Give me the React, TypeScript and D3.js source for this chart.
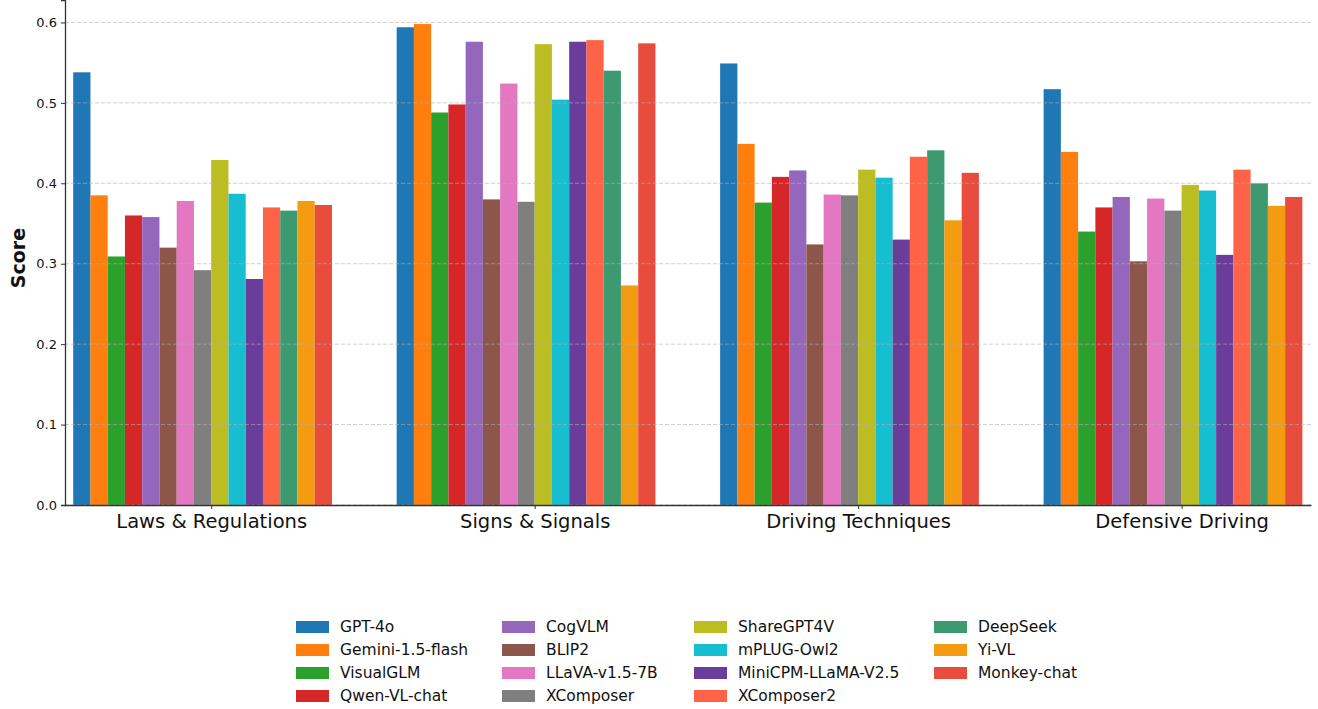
import { useEffect, useRef } from "react"
import * as d3 from "d3"

const categories = ["Laws & Regulations", "Signs & Signals", "Driving Techniques", "Defensive Driving"]

const models = [
  "GPT-4o", "Gemini-1.5-flash", "VisualGLM", "Qwen-VL-chat", "CogVLM", "BLIP2", "LLaVA-v1.5-7B",
  "XComposer", "ShareGPT4V", "mPLUG-Owl2", "MiniCPM-LLaMA-V2.5", "XComposer2", "DeepSeek", "Yi-VL", "Monkey-chat",
]

const colors = [
  "#1f77b4", "#ff7f0e", "#2ca02c", "#d62728", "#9467bd", "#8c564b", "#e377c2",
  "#7f7f7f", "#bcbd22", "#17becf", "#6a3d9a", "#ff6347", "#3d9970", "#f39c12", "#e74c3c",
]

// one value per model for each category
const lawsScores = [0.538, 0.385, 0.309, 0.36, 0.358, 0.32, 0.378, 0.292, 0.429, 0.387, 0.281, 0.37, 0.366, 0.378, 0.373]
const signsScores = [0.594, 0.598, 0.488, 0.498, 0.576, 0.38, 0.524, 0.377, 0.573, 0.504, 0.576, 0.578, 0.54, 0.273, 0.574]
const techniquesScores = [0.549, 0.449, 0.376, 0.408, 0.416, 0.324, 0.386, 0.385, 0.417, 0.407, 0.33, 0.433, 0.441, 0.354, 0.413]
const defensiveScores = [0.517, 0.439, 0.34, 0.37, 0.383, 0.303, 0.381, 0.366, 0.398, 0.391, 0.311, 0.417, 0.4, 0.372, 0.383]

const yTicks = [0, 0.1, 0.2, 0.3, 0.4, 0.5, 0.6]

export default function App() {
  const ref = useRef<SVGSVGElement>(null)

  useEffect(() => {
    const svgEl = ref.current
    if (!svgEl) return
    const svg = d3.select(svgEl)
    svg.selectAll("*").remove()

    const font = "DejaVu Sans, sans-serif"
    const left = 65
    const right = 1311
    const top = 0
    const bottom = 505

    const scores = [lawsScores, signsScores, techniquesScores, defensiveScores]
    const n = models.length
    const barW = 0.8 / n
    const maxVal = d3.max(scores.flat()) || 0

    const x = d3.scaleLinear().domain([-0.452, 3.4]).range([left, right])
    const y = d3.scaleLinear().domain([0, maxVal * 1.05]).range([bottom, top])

    // bars
    const g = svg.append("g")
    categories.forEach((cat, ci) => {
      models.forEach((m, i) => {
        const x0 = ci + (i - 8) * barW
        g.append("rect")
          .attr("x", x(x0))
          .attr("width", x(x0 + barW) - x(x0))
          .attr("y", y(scores[ci][i]))
          .attr("height", y(0) - y(scores[ci][i]))
          .attr("fill", colors[i])
      })
    })

    // grid on top of the bars
    svg.append("g")
      .selectAll("line")
      .data(yTicks)
      .enter()
      .append("line")
      .attr("x1", left)
      .attr("x2", right)
      .attr("y1", (d) => y(d))
      .attr("y2", (d) => y(d))
      .attr("stroke", "#b0b0b0")
      .attr("stroke-opacity", 0.6)
      .attr("stroke-width", 1)
      .attr("stroke-dasharray", "4,2")

    // y axis
    const yAxis = svg.append("g")
      .attr("transform", `translate(${left},0)`)
      .call(d3.axisLeft(y).tickValues(yTicks).tickFormat(d3.format(".1f")).tickSize(4).tickPadding(4))
    yAxis.select(".domain").attr("stroke", "#333").attr("stroke-width", 1.3)
    yAxis.selectAll(".tick line").attr("stroke", "#333")
    yAxis.selectAll("text").attr("font-family", font).attr("font-size", 13).attr("fill", "#111")

    // x axis
    const xAxis = svg.append("g")
      .attr("transform", `translate(0,${bottom})`)
      .call(d3.axisBottom(x).tickValues([0, 1, 2, 3]).tickFormat((d) => categories[d as number]).tickSize(4).tickSizeOuter(0).tickPadding(5))
    xAxis.select(".domain").attr("stroke", "#333").attr("stroke-width", 1.3)
    xAxis.selectAll(".tick line").attr("stroke", "#333")
    xAxis.selectAll("text").attr("font-family", font).attr("font-size", 19.5).attr("fill", "#111")

    svg.append("text")
      .attr("transform", `translate(18,258) rotate(-90)`)
      .attr("text-anchor", "middle")
      .attr("dy", "0.35em")
      .attr("font-family", font)
      .attr("font-size", 19)
      .attr("font-weight", "bold")
      .attr("fill", "#111")
      .text("Score")

    // legend, 4 columns filled column-wise
    const colX = [296, 502, 694, 934]
    const rowY = [627, 650, 673, 696]
    const legend = svg.append("g")
    models.forEach((m, i) => {
      const c = Math.floor(i / 4)
      const r = i % 4
      legend.append("rect")
        .attr("x", colX[c])
        .attr("y", rowY[r] - 6)
        .attr("width", 33)
        .attr("height", 12)
        .attr("fill", colors[i])
      legend.append("text")
        .attr("x", colX[c] + 44)
        .attr("y", rowY[r])
        .attr("dy", "0.35em")
        .attr("font-family", font)
        .attr("font-size", 15.5)
        .attr("fill", "#111")
        .text(m)
    })
  }, [])

  return (
    <svg
      ref={ref}
      width={1318}
      height={709}
      style={{ position: "absolute", left: 0, top: 0, background: "#fff" }}
    />
  )
}
